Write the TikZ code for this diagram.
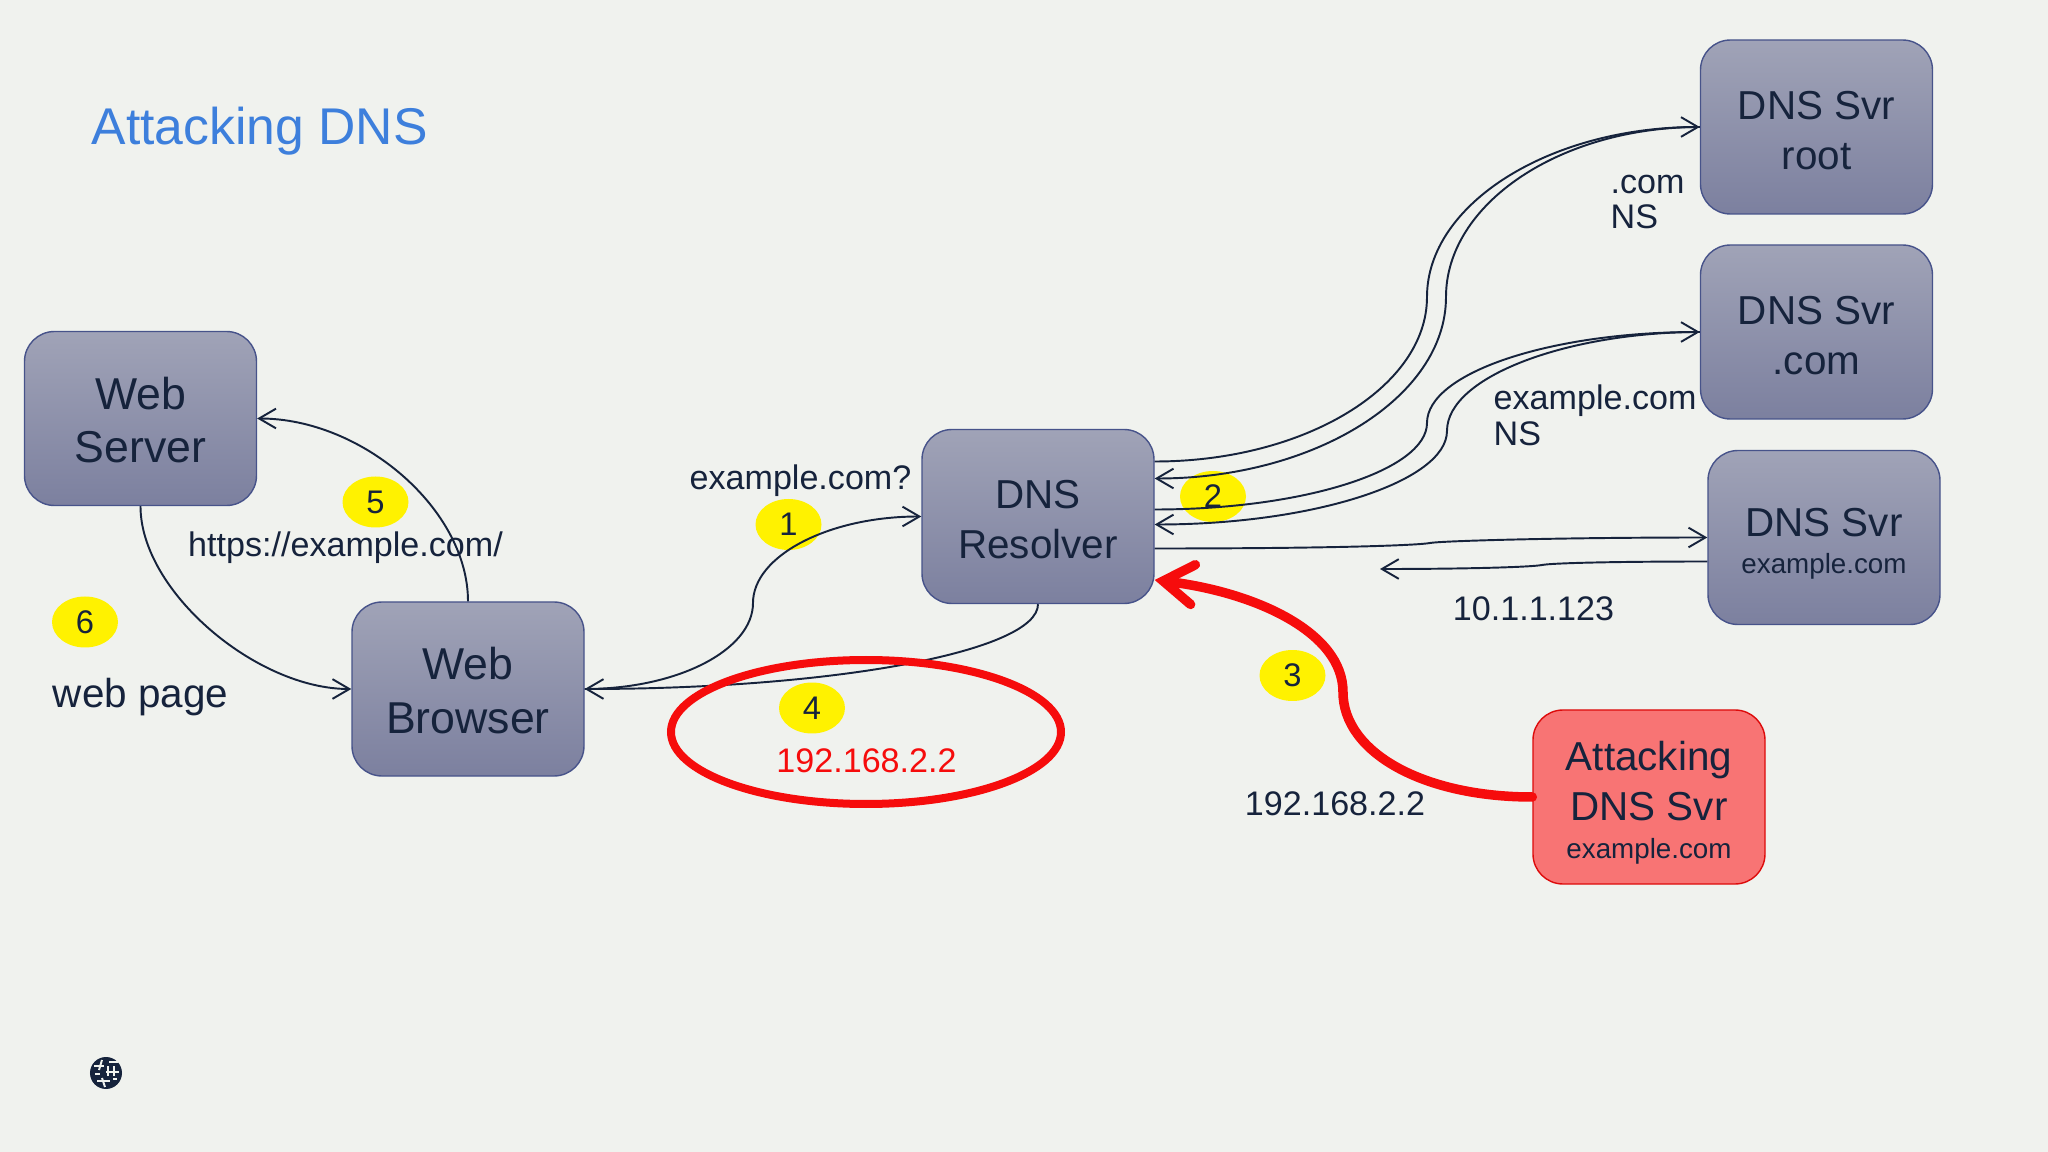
\documentclass[tikz,border=0pt]{standalone}
\usepackage{fontspec}
\setmainfont{Liberation Sans}
\usetikzlibrary{arrows.meta,shapes.geometric}
\definecolor{bgcol}{HTML}{F0F2EE}
\definecolor{inkcol}{HTML}{16233C}
\definecolor{titlecol}{HTML}{3D7FDC}
\definecolor{boxtop}{HTML}{A0A3B7}
\definecolor{boxbot}{HTML}{7C809F}
\definecolor{boxline}{HTML}{47538A}
\definecolor{badcol}{HTML}{F87474}
\definecolor{redcol}{HTML}{F60C0C}
\tikzset{
  srvbox/.style={draw=boxline,line width=.4pt,rounded corners=.3cm,top color=boxtop,bottom color=boxbot,
    minimum width=2.32cm,minimum height=1.74cm,inner sep=0pt,align=center,text=inkcol},
  badbox/.style={srvbox,draw=redcol!90!black,top color=badcol,bottom color=badcol},
  badge/.style={ellipse,fill=yellow,minimum width=.66cm,minimum height=.51cm,inner sep=0pt,text=inkcol,
    font=\fontsize{9.3}{10}\selectfont},
  note/.style={text=inkcol,inner sep=0pt,align=left,font=\fontsize{9.7}{10.1}\selectfont},
  link/.style={draw=inkcol,line width=.55pt,>={Straight Barb[length=4.8pt,width=5.6pt]}},
  hack/.style={draw=redcol,line width=.095cm,line cap=round,>={Straight Barb[length=.3cm,width=.4cm,line cap=round]}}
}
\newcommand{\bigtxt}{\fontsize{11.5}{14.2}\selectfont}
\newcommand{\webtxt}{\fontsize{12.7}{15.2}\selectfont}
\newcommand{\smalltxt}{\fontsize{7.9}{9.8}\selectfont}
\newcommand{\lift}[1]{\rule{0pt}{#1pt}}
\begin{document}
\begin{tikzpicture}[x=1cm,y=-1cm]
\useasboundingbox (0,0) rectangle (20.48,11.52);
\fill[bgcol] (0,0) rectangle (20.48,11.52);

\node[font=\fontsize{14.7}{17}\selectfont,text=titlecol,anchor=west,inner sep=0pt] (title) at (.91,1.31) {Attacking DNS};

\node[badge] (b1) at (7.885,5.245) {1};
\node[badge] (b2) at (12.13,4.965) {2};
\node[badge] (b3) at (12.925,6.755) {3};
\node[badge] (b4) at (8.12,7.08) {4};
\node[badge] (b5) at (3.755,5.02) {5};
\node[badge] (b6) at (.85,6.22) {6};

\node[srvbox,font=\webtxt] (server) at (1.405,4.185) {\lift{10}Web\\Server};
\node[srvbox,font=\webtxt] (browser) at (4.68,6.89) {\lift{10}Web\\Browser};
\node[srvbox,font=\bigtxt] (resolver) at (10.38,5.165) {\lift{10}DNS\\Resolver};
\node[srvbox,font=\bigtxt] (root) at (18.165,1.27) {\lift{10}DNS Svr\\root};
\node[srvbox,font=\bigtxt] (com) at (18.165,3.32) {\lift{10}DNS Svr\\.com};
\node[srvbox,font=\bigtxt] (auth) at (18.24,5.375) {\lift{11.5}DNS Svr\\[-3.5pt]{\smalltxt example.com}};
\node[badbox,font=\bigtxt] (attacker) at (16.49,7.97) {\lift{11.5}Attacking\\DNS Svr\\[-3.5pt]{\smalltxt example.com}};

\coordinate (rootmida) at (14.27,2.97);
\coordinate (rootmidb) at (14.46,2.97);
\coordinate (commida) at (14.27,4.23);
\coordinate (commidb) at (14.47,4.31);
\coordinate (authmida) at (14.30,5.43);
\coordinate (authmidb) at (15.42,5.65);
\coordinate (authend) at (13.80,5.69);
\coordinate (querymid) at (7.53,6.03);
\coordinate (hackmid) at (13.43,6.92);

\draw[link,->] (browser.east) .. controls +(.93,0) and +(0,.47) .. (querymid) .. controls +(0,-.47) and +(-.93,0) .. (resolver.west);
\draw[link,->] (resolver.south) .. controls +(0,.47) and +(2.5,0) .. (browser.east);
\draw[link,->] (browser.north) .. controls +(0,-.92) and +(1.05,0) .. (server.east);
\draw[link,->] (server.south) .. controls +(0,.85) and +(-.95,0) .. (browser.west);

\draw[link,->] ([yshift=.55cm]resolver.east) .. controls +(1.5,0) and +(0,.9) .. (rootmida) .. controls +(0,-.93) and +(-1.5,0) .. (root.west);
\draw[link,<-] ([yshift=.38cm]resolver.east) .. controls +(1.6,0) and +(0,1) .. (rootmidb) .. controls +(0,-.93) and +(-1.4,0) .. (root.west);
\draw[link,->] ([yshift=.07cm]resolver.east) .. controls +(1.5,0) and +(0,.47) .. (commida) .. controls +(0,-.5) and +(-1.5,0) .. (com.west);
\draw[link,<-] ([yshift=-.08cm]resolver.east) .. controls +(1.6,0) and +(0,.5) .. (commidb) .. controls +(0,-.55) and +(-1.3,0) .. (com.west);
\draw[link,->] ([yshift=-.32cm]resolver.east) .. controls +(1.9,0) and +(-.1,.02) .. (authmida) .. controls +(.1,-.02) and +(-1.5,0) .. (auth.west);
\draw[link,->] ([yshift=-.24cm]auth.west) .. controls +(-.9,0) and +(.1,-.02) .. (authmidb) .. controls +(-.1,.02) and +(.9,0) .. (authend);

\draw[hack,->] (attacker.west) .. controls +(-1.1,0) and +(0,.6) .. (hackmid) .. controls +(0,-.6) and +(1.0,.12) .. ([yshift=-.635cm]resolver.east);

\node[ellipse,draw=redcol,line width=.08cm,minimum width=3.9cm,minimum height=1.44cm,inner sep=0pt] (ring) at (8.66,7.32) {};

\node[note,text=redcol] (fakeip) at (8.665,7.605) {192.168.2.2};
\node[note] (query) at (8.005,4.81) {example.com?};
\node[note,anchor=west] (comns) at (16.10,2.02) {.com\\NS};
\node[note,anchor=west] (exns) at (14.93,4.155) {example.com\\NS};
\node[note] (goodip) at (15.335,6.09) {10.1.1.123};
\node[note] (badip) at (13.35,8.035) {192.168.2.2};
\node[note] (url) at (3.455,5.476) {https://example.com/};
\node[text=inkcol,inner sep=0pt,font=\bigtxt] (page) at (1.405,6.975) {web page};

\node[circle,fill=inkcol,minimum size=.32cm,inner sep=0pt] (globe) at (1.06,10.73) {};
\foreach \xa/\ya/\xb/\yb in {.94/10.66/1.04/10.66, 1.09/10.62/1.18/10.62, .95/10.74/1.00/10.74, 1.06/10.72/1.19/10.72, .97/10.81/1.10/10.81, 1.13/10.79/1.17/10.79}
  \draw[bgcol,line width=.55pt] (\xa,\ya) -- (\xb,\yb);
\foreach \xa/\ya/\xb/\yb in {1.02/10.60/.99/10.70, 1.08/10.66/1.08/10.76, 1.14/10.66/1.14/10.76, 1.02/10.78/1.05/10.87}
  \draw[bgcol,line width=.55pt] (\xa,\ya) -- (\xb,\yb);
\end{tikzpicture}
\end{document}
